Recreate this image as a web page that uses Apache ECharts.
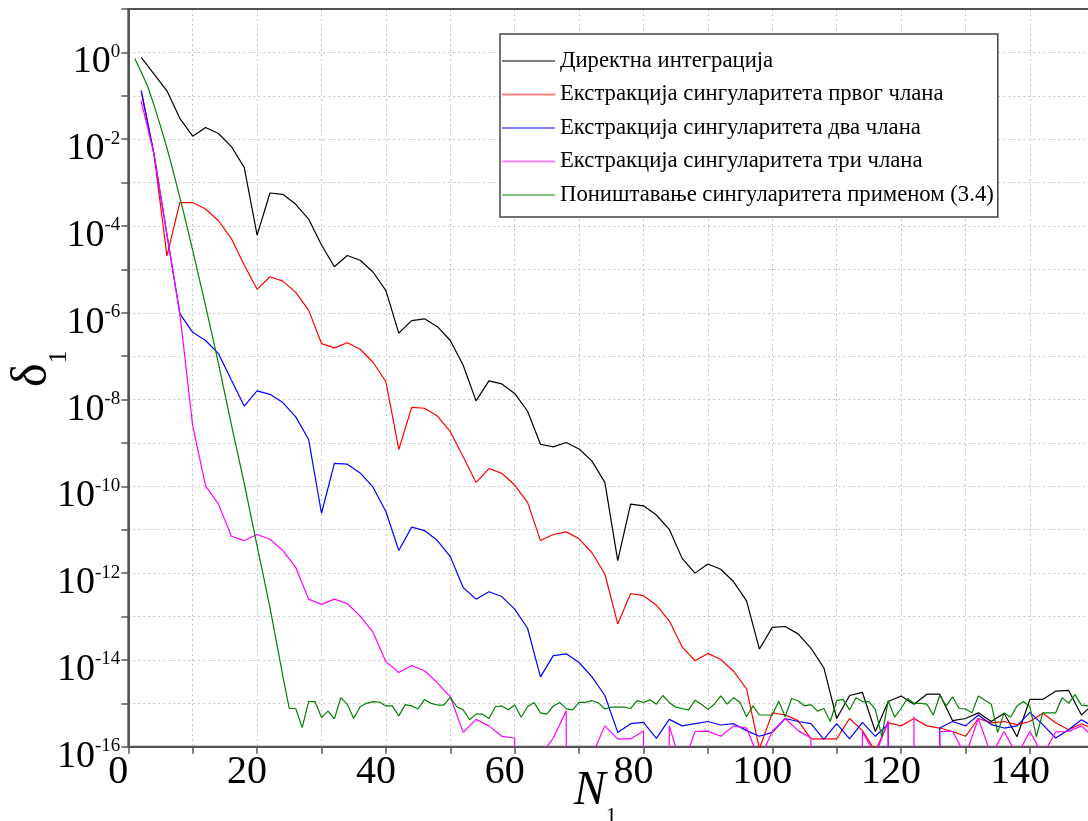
<!DOCTYPE html>
<html><head><meta charset="utf-8">
<script src="https://cdn.jsdelivr.net/npm/echarts@6/dist/echarts.min.js"></script>
<style>html,body{margin:0;padding:0;background:#fff}#c{width:1088px;height:821px}</style>
</head><body><div id="c"></div>
<script>
// x positions
const nEven = [2,4,6,8,10,12,14,16,18,20,22,24,26,28,30,32,34,36,38,40,42,44,46,48,50,
  52,54,56,58,60,62,64,66,68,70,72,74,76,78,80,82,84,86,88,90,92,94,96,98,100,
  102,104,106,108,110,112,114,116,118,120,122,124,126,128,130,132,134,136,138,140,142,144,146,148,150];
const nAll = [1,2,3,4,5,6,7,8,9,10,11,12,13,14,15,16,17,18,19,20,21,22,23,24,25,26,27,28,29,30,
  31,32,33,34,35,36,37,38,39,40,41,42,43,44,45,46,47,48,49,50,51,52,53,54,55,56,57,58,59,60,
  61,62,63,64,65,66,67,68,69,70,71,72,73,74,75,76,77,78,79,80,81,82,83,84,85,86,87,88,89,90,
  91,92,93,94,95,96,97,98,99,100,101,102,103,104,105,106,107,108,109,110,111,112,113,114,115,116,117,118,119,120,
  121,122,123,124,125,126,127,128,129,130,131,132,133,134,135,136,137,138,139,140,141,142,143,144,145,146,147,148,149,150];

// values are log10(delta_1); Z marks an exact zero (drawn as a drop below the axis)
const Z = -300;
const logDirect = [
  -0.115,-0.50,-0.885,-1.52,-1.93, -1.73,-1.87,-2.17,-2.65,-4.21,
  -3.24,-3.27,-3.50,-3.84,-4.44, -4.94,-4.68,-4.79,-5.06,-5.49,
  -6.47,-6.18,-6.14,-6.32,-6.64, -7.21,-8.03,-7.57,-7.64,-7.86,
  -8.27,-9.03,-9.09,-8.99,-9.14, -9.42,-9.91,-11.71,-10.41,-10.45,
  -10.66,-10.99,-11.66,-12.00,-11.79, -11.91,-12.20,-12.64,-13.75,-13.25,
  -13.23,-13.40,-13.73,-14.18,-15.35, -14.82,-14.75,-15.65,-14.96,-14.83,
  -15.02,-14.79,-14.79,-15.40,-15.35, -15.22,-15.42,-15.23,-15.77,-14.91,
  -14.91,-14.72,-14.70,-15.27,-15.00];
const logExtract1 = [
  -0.88,-2.35,-4.69,-3.46,-3.46, -3.61,-3.88,-4.29,-4.90,-5.46,
  -5.17,-5.27,-5.53,-5.94,-6.71, -6.81,-6.69,-6.84,-7.14,-7.59,
  -9.15,-8.18,-8.20,-8.38,-8.74, -9.32,-9.91,-9.59,-9.70,-9.97,
  -10.37,-11.25,-11.11,-11.05,-11.21, -11.53,-12.02,-13.17,-12.47,-12.52,
  -12.74,-13.10,-13.70,-14.02,-13.85, -13.99,-14.26,-14.67,-16.05,-15.22,
  -15.27,-15.40,-15.82,-15.82,-15.82, -15.35,-15.63,-16.10,-15.45,-15.52,
  -15.35,-15.52,-15.57,-15.65,-15.76, -15.35,-15.45,-15.42,-15.49,-15.42,
  -15.23,-15.45,-15.61,-15.47,-15.60];
const logExtract2 = [
  -0.88,-2.35,-4.20,-6.02,-6.45, -6.64,-6.94,-7.55,-8.15,-7.80,
  -7.88,-8.07,-8.40,-8.92,-10.62, -9.47,-9.49,-9.69,-10.02,-10.58,
  -11.48,-10.94,-11.02,-11.25,-11.62, -12.33,-12.60,-12.43,-12.54,-12.83,
  -13.27,-14.39,-13.90,-13.86,-14.06, -14.39,-14.82,-15.67,-15.47,-15.44,
  -15.81,-15.37,-15.52,-15.47,-15.42, -15.50,-15.47,-15.63,-15.76,-15.67,
  -15.35,-15.42,-15.47,-15.83,-15.47, -15.82,-15.44,-15.76,-15.48,Z,
  Z,Z,-15.57,-15.42,-15.52, -15.27,-15.49,-15.57,-15.52,-15.21,
  -15.49,-15.80,-15.61,-15.38,-15.55];
const logExtract3 = [
  -1.12,-2.35,-4.20,-6.02,-8.60, -9.99,-10.41,-11.15,-11.25,-11.11,
  -11.22,-11.48,-11.87,-12.60,-12.72, -12.60,-12.70,-12.99,-13.36,-14.04,
  -14.29,-14.13,-14.25,-14.53,-14.85, -15.67,-15.37,-15.52,-15.76,-15.80,
  Z,-16.20,-15.80,-15.17,Z, -16.20,-15.52,-15.82,-15.82,-15.64,
  Z,-15.52,-16.50,-15.65,-15.64, -15.76,-15.52,-15.57,-16.30,-15.65,
  -15.35,-15.63,-15.80,Z,Z, Z,-15.65,-16.20,-15.40,Z,
  -15.30,Z,-15.65,-15.65,-16.20, -15.35,-16.20,-15.65,-16.20,-15.65,
  -16.20,-15.66,-15.65,-15.52,-15.80];
const logCancel = [
  -0.14,-0.45,-0.78,-1.22,-1.70,-2.20,-2.76,-3.34,-3.94,-4.56,
  -5.20,-5.84,-6.50,-7.17,-7.87,-8.58,-9.25,-9.93,-10.65,-11.38,
  -12.08,-12.80,-13.58,-14.38,-15.12,-15.12,-15.56,-14.96,-14.96,-15.33,
  -15.18,-15.36,-14.87,-15.02,-15.35,-15.08,-15.00,-14.96,-14.97,-15.06,
  -15.06,-15.29,-15.03,-15.06,-15.13,-14.91,-15.00,-15.04,-15.04,-14.86,
  -15.08,-15.15,-15.38,-15.25,-15.25,-15.35,-15.08,-15.06,-15.15,-15.04,
  -15.32,-15.08,-14.98,-15.22,-15.25,-15.06,-14.98,-15.13,-15.15,-14.98,
  -14.98,-14.94,-14.99,-15.13,-15.09,-15.09,-15.09,-15.12,-14.94,-14.98,
  -14.92,-15.02,-14.82,-14.98,-15.09,-15.12,-15.15,-14.93,-15.02,-15.14,
  -15.02,-14.83,-15.02,-14.87,-14.98,-15.31,-15.06,-15.27,-15.27,-15.27,
  -14.95,-15.31,-14.89,-14.94,-15.06,-15.03,-15.18,-15.12,-15.42,-14.94,
  -14.91,-15.15,-14.87,-14.96,-14.96,-15.14,-15.77,-14.94,-15.32,-15.12,
  -14.89,-15.00,-15.00,-15.02,-15.27,-14.82,-15.06,-14.85,-15.12,-15.13,
  -15.22,-14.83,-14.93,-15.02,-15.67,-15.22,-15.32,-15.06,-14.96,-15.08,
  -15.77,-15.22,-15.22,-15.22,-14.87,-15.00,-14.80,-15.04,-15.06,-15.06];

const seriesNames = [
  'Директна интеграција',
  'Екстракција сингуларитета првог члана',
  'Екстракција сингуларитета два члана',
  'Екстракција сингуларитета три члана',
  'Поништавање сингуларитета применом (3.4)'
];
const lineColors = ['#000000','#ff0000','#0000ff','#ff00ff','#008000'];
const legendColors = ['#808080','#ff8080','#8080ff','#ff80ff','#80c080'];
const xTickLabels = [0,20,40,60,80,100,120,140];
const yTickLabelExps = [0,-2,-4,-6,-8,-10,-12,-14,-16];

const serif = 'Liberation Serif';
const pairs = (xs, ls) => xs.map((x, i) => [x, Math.pow(10, ls[i])]);
const dataSets = [
  pairs(nEven, logDirect), pairs(nEven, logExtract1), pairs(nEven, logExtract2),
  pairs(nEven, logExtract3), pairs(nAll, logCancel)
];

const chart = echarts.init(document.getElementById('c'), null, {renderer: 'canvas'});
chart.setOption({
  animation: false,
  backgroundColor: '#ffffff',
  grid: {left: 128.3, top: 9, width: 966, height: 737.7, show: true,
         borderColor: '#555', borderWidth: 2, outerBoundsMode: 'none', containLabel: false},
  legend: {
    orient: 'vertical', left: 500, top: 34,
    padding: [15, 4, 10, 2], itemGap: 9.5, itemWidth: 53, itemHeight: 2, icon: 'rect',
    backgroundColor: '#fff', borderColor: '#444', borderWidth: 1.5, borderRadius: 0,
    textStyle: {fontFamily: serif, fontSize: 22.7, color: '#000', lineHeight: 24},
    data: seriesNames.map((n, i) => ({name: n, itemStyle: {color: legendColors[i]}}))
  },
  xAxis: [{
    type: 'value', min: 0, max: 150, interval: 10,
    axisLine: {lineStyle: {color: '#555', width: 2}},
    axisTick: {show: true, length: 7, lineStyle: {color: '#555', width: 1.5}},
    axisLabel: {
      formatter: v => xTickLabels.indexOf(v) >= 0 ? String(v) : '',
      fontFamily: serif, fontSize: 40, color: '#000', margin: 6, padding: [0, 20, 0, 0]
    },
    splitLine: {show: true, lineStyle: {color: '#c4c4c4', type: [2, 3], width: 1}},
    name: '{n|N}{s|1}', nameLocation: 'middle', nameGap: 21, nameMoveOverlap: false,
    nameTextStyle: {padding: [0, 32, 0, 0], rich: {
      n: {fontFamily: serif, fontStyle: 'italic', fontSize: 48, lineHeight: 48, verticalAlign: 'top', color: '#000'},
      s: {fontFamily: serif, fontSize: 22, lineHeight: 22, padding: [38, 0, 0, 0], verticalAlign: 'top', color: '#000'}
    }}
  }, {
    type: 'value', position: 'top', min: 0, max: 150, interval: 10,
    axisLine: {show: true, onZero: false, lineStyle: {color: '#555', width: 2}},
    axisTick: {show: false}, axisLabel: {show: false}, splitLine: {show: false}
  }],
  yAxis: {
    type: 'log', logBase: 10, min: 1e-16, max: 10, interval: 1,
    axisLine: {lineStyle: {color: '#555', width: 2}},
    axisTick: {show: true, length: 7, lineStyle: {color: '#555', width: 1.5}},
    axisLabel: {
      formatter: v => {
        const e = Math.round(Math.log10(v));
        return yTickLabelExps.indexOf(e) >= 0 ? '{b|10}{e|' + e + '}' : '';
      },
      margin: 8, padding: [20, 0, 0, 0],
      rich: {
        b: {fontFamily: serif, fontSize: 38, lineHeight: 40, color: '#000'},
        e: {fontFamily: serif, fontSize: 19, lineHeight: 20, verticalAlign: 'top', color: '#000'}
      }
    },
    splitLine: {show: true, lineStyle: {color: '#c4c4c4', type: [2, 3], width: 1}},
    name: '{d|δ}{s|1}', nameLocation: 'middle', nameRotate: 90, nameGap: 70, nameMoveOverlap: false,
    nameTextStyle: {padding: [0, 0, 0, 18], rich: {
      d: {fontFamily: serif, fontSize: 50, lineHeight: 50, verticalAlign: 'top', color: '#000'},
      s: {fontFamily: serif, fontSize: 25, lineHeight: 25, padding: [39, 0, 0, 0], verticalAlign: 'top', color: '#000'}
    }}
  },
  series: dataSets.map((d, i) => ({
    name: seriesNames[i], type: 'line', data: d, symbol: 'none', showSymbol: false,
    xAxisIndex: 0, clip: true, lineStyle: {color: lineColors[i], width: 1.2}, itemStyle: {color: lineColors[i]},
    emphasis: {disabled: true}
  }))
});
</script></body></html>
